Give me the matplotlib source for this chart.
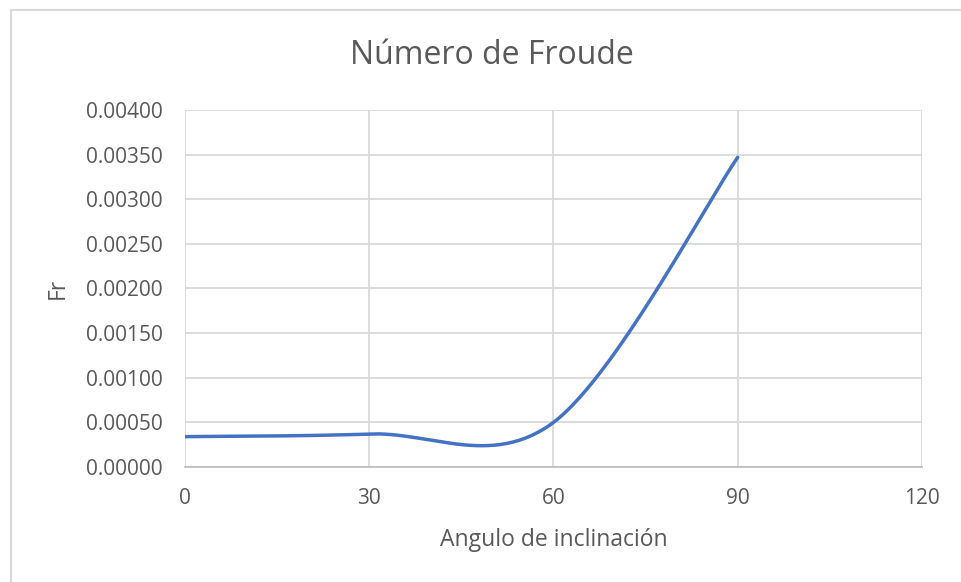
import numpy as np
import matplotlib.pyplot as plt
from matplotlib.lines import Line2D

# Froude number vs inclination angle
angulos = [0, 30, 60, 90]
froude = [0.00034, 0.00037, 0.00050, 0.00347]

x_ticks = [0, 30, 60, 90, 120]
y_ticks = [0.0, 0.0005, 0.0010, 0.0015, 0.0020, 0.0025, 0.0030, 0.0035, 0.0040]


def smooth_curve(xs, ys, n=60):
    """Spreadsheet-style smoothed line: cubic Bezier through the points,
    control points taken from neighbour differences / 6."""
    pts = np.column_stack([xs, ys]).astype(float)
    out = []
    for i in range(len(pts) - 1):
        p0 = pts[i]
        p3 = pts[i + 1]
        prev = pts[i - 1] if i > 0 else pts[i]
        nxt = pts[i + 2] if i + 2 < len(pts) else pts[i + 1]
        c1 = p0 + (p3 - prev) / 6.0
        c2 = p3 - (nxt - p0) / 6.0
        t = np.linspace(0, 1, n)[:, None]
        seg = ((1 - t) ** 3) * p0 + 3 * ((1 - t) ** 2) * t * c1 \
            + 3 * (1 - t) * t ** 2 * c2 + t ** 3 * p3
        out.append(seg if i == 0 else seg[1:])
    seg = np.vstack(out)
    return seg[:, 0], seg[:, 1]


plt.rcParams['font.family'] = ['Open Sans', 'DejaVu Sans']
text_color = '#595959'
grid_color = '#D9D9D9'

fig = plt.figure(figsize=(9.61, 5.82), dpi=100)
ax = fig.add_axes([0.1925, 0.1976, 0.7669, 0.6134])

xs, ys = smooth_curve(angulos, froude)
ax.plot(xs, ys, color='#4472C4', linewidth=2.5, solid_capstyle='round', zorder=3)

ax.set_xlim(0, 120)
ax.set_ylim(0, 0.004)
ax.set_xticks(x_ticks)
ax.set_yticks(y_ticks)
ax.set_yticklabels([f'{v:.5f}' for v in y_ticks])
ax.grid(True, color=grid_color, linewidth=1.3)
ax.set_axisbelow(True)
ax.tick_params(length=0, labelsize=15, labelcolor=text_color)
ax.tick_params(axis='y', pad=16)
ax.tick_params(axis='x', pad=15)

for side in ['top', 'right', 'left']:
    ax.spines[side].set_visible(False)
ax.spines['bottom'].set_color('#BFBFBF')
ax.spines['bottom'].set_linewidth(1.3)

fig.text(492 / 961, 1 - 55 / 582, 'Número de Froude', fontsize=23,
         color=text_color, ha='center', va='center')
ax.set_xlabel('Angulo de inclinación', fontsize=16.5, color=text_color, labelpad=12)
ax.set_ylabel('Fr', fontsize=16.5, color=text_color, labelpad=8)
ax.xaxis.set_label_coords(0.5, -(540 - 467) / 357, transform=ax.transAxes)
ax.yaxis.set_label_coords(-(185 - 58) / 737, 0.5, transform=ax.transAxes)
ax.xaxis.label.set_va('center')
ax.yaxis.label.set_va('center')

# chart frame edges (top and left)
fig.add_artist(Line2D([11 / 961, 11 / 961], [0, 1 - 10 / 582],
                      transform=fig.transFigure, color='#D9D9D9', linewidth=1.5))
fig.add_artist(Line2D([11 / 961, 1], [1 - 10 / 582, 1 - 10 / 582],
                      transform=fig.transFigure, color='#D9D9D9', linewidth=1.5))

fig.savefig('out.png', dpi=100)
